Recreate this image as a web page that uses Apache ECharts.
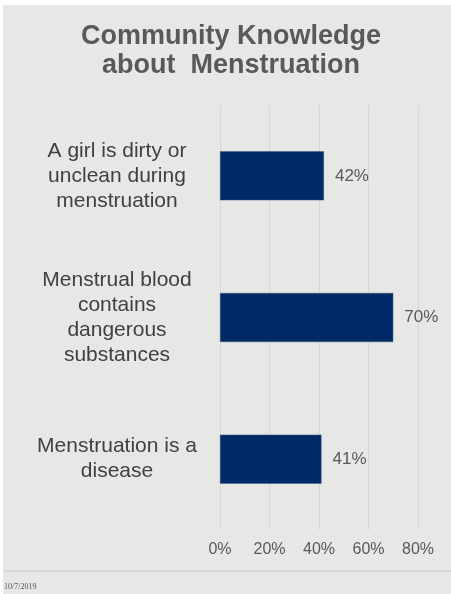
<!DOCTYPE html>
<html>
<head>
<meta charset="utf-8">
<script src="https://cdn.jsdelivr.net/npm/echarts@6/dist/echarts.min.js"></script>
<style>
html,body{margin:0;padding:0;background:#ffffff;}
#chart{width:451px;height:594px;}
</style>
</head>
<body>
<div id="chart"></div>
<script>
const titleText = 'Community Knowledge\nabout  Menstruation';
const categories = [
  'A girl is dirty or\nunclean during\nmenstruation',
  'Menstrual blood\ncontains\ndangerous\nsubstances',
  'Menstruation is a\ndisease'
];
const values = [42, 70, 41];
const xTicks = [0, 20, 40, 60, 80];
const footerText = '10/7/2019';

const FONT = 'Liberation Sans, Arial, sans-serif';
const chart = echarts.init(document.getElementById('chart'), null, {renderer: 'canvas'});
chart.setOption({
  backgroundColor: '#ffffff',
  animation: false,
  graphic: [
    {type: 'rect', z: -10, silent: true, shape: {x: 3, y: 5, width: 448, height: 589}, style: {fill: '#e7e7e5'}},
    {type: 'line', silent: true, shape: {x1: 3, y1: 571, x2: 451, y2: 571}, style: {stroke: '#d6d6d4', lineWidth: 1.5}},
    {type: 'text', silent: true, x: 4, y: 583, style: {text: footerText, fontSize: 8, fontFamily: 'Liberation Serif, serif', fill: '#555555'}}
  ],
  title: {
    text: titleText,
    left: 226,
    top: 17,
    textAlign: 'center',
    textStyle: {fontFamily: FONT, fontSize: 27, fontWeight: 'bold', color: '#595959', lineHeight: 29}
  },
  grid: {left: 220, right: 33, top: 105, bottom: 64, containLabel: false},
  xAxis: {
    type: 'value',
    min: xTicks[0],
    max: xTicks[xTicks.length - 1],
    interval: xTicks[1] - xTicks[0],
    axisLine: {show: false},
    axisTick: {show: false},
    splitLine: {lineStyle: {color: '#d8d8d6', width: 1}},
    axisLabel: {formatter: v => v + '%', fontFamily: FONT, fontSize: 16, color: '#595959', margin: 12}
  },
  yAxis: {
    type: 'category',
    data: categories,
    inverse: true,
    axisLine: {show: false},
    axisTick: {show: false},
    axisLabel: {fontFamily: FONT, fontSize: 21, lineHeight: 25, color: '#404040', align: 'center', margin: 103}
  },
  series: [{
    type: 'bar',
    data: values,
    barWidth: 49,
    itemStyle: {color: '#002a66', borderColor: '#3a5a8a', borderWidth: 0.5},
    label: {show: true, position: 'right', distance: 11, formatter: p => p.value + '%', fontFamily: FONT, fontSize: 17, color: '#595959'}
  }]
});
</script>
</body>
</html>
